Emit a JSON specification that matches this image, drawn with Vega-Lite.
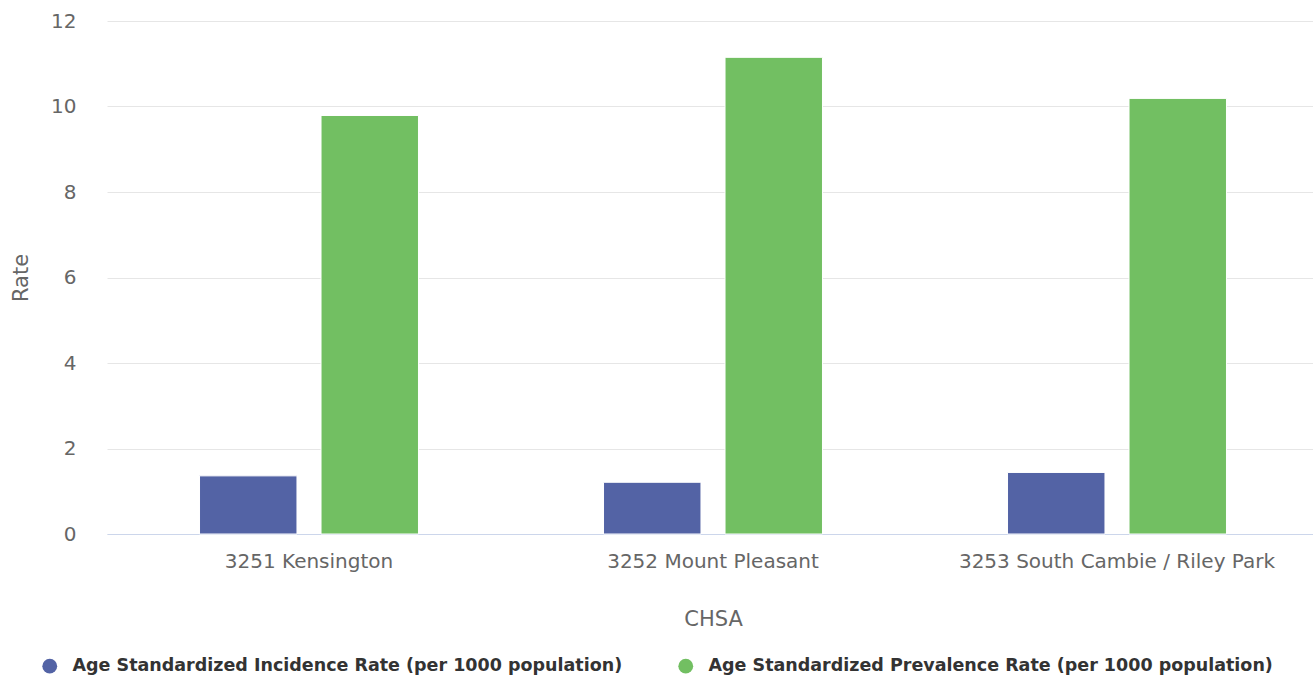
{
  "$schema": "https://vega.github.io/schema/vega-lite/v6.json",
  "width": 1207,
  "height": 513,
  "autosize": {"type": "none"},
  "padding": {"left": 106, "top": 21, "right": 0, "bottom": 143},
  "background": "white",
  "config": {
    "font": "DejaVu Sans",
    "view": {"stroke": null}
  },
  "data": {
    "values": [
      {"chsa": "3251 Kensington", "measure": "Age Standardized Incidence Rate (per 1000 population)", "rate": 1.36},
      {"chsa": "3251 Kensington", "measure": "Age Standardized Prevalence Rate (per 1000 population)", "rate": 9.79},
      {"chsa": "3252 Mount Pleasant", "measure": "Age Standardized Incidence Rate (per 1000 population)", "rate": 1.21},
      {"chsa": "3252 Mount Pleasant", "measure": "Age Standardized Prevalence Rate (per 1000 population)", "rate": 11.15},
      {"chsa": "3253 South Cambie / Riley Park", "measure": "Age Standardized Incidence Rate (per 1000 population)", "rate": 1.44},
      {"chsa": "3253 South Cambie / Riley Park", "measure": "Age Standardized Prevalence Rate (per 1000 population)", "rate": 10.19}
    ]
  },
  "mark": {"type": "bar", "stroke": "white", "strokeWidth": 1},
  "encoding": {
    "x": {
      "field": "chsa",
      "type": "nominal",
      "sort": null,
      "scale": {"paddingInner": 0.458, "paddingOuter": 0.229, "range": [1, 1213]},
      "axis": {
        "title": "CHSA",
        "labelAngle": 0,
        "labelFontSize": 20,
        "labelColor": "#666666",
        "labelPadding": 17,
        "labelLimit": 600,
        "ticks": false,
        "tickSize": 0,
        "domainColor": "#ccd6eb",
        "domainWidth": 1,
        "titleFontSize": 21,
        "titleFontWeight": "normal",
        "titleColor": "#666666",
        "titlePadding": 37,
        "titleX": 607
      }
    },
    "xOffset": {
      "field": "measure",
      "type": "nominal",
      "scale": {"paddingInner": 0.198, "paddingOuter": 0}
    },
    "y": {
      "field": "rate",
      "type": "quantitative",
      "scale": {"domain": [0, 12]},
      "axis": {
        "title": "Rate",
        "values": [0, 2, 4, 6, 8, 10, 12],
        "labelFontSize": 20,
        "labelColor": "#666666",
        "labelPadding": 30,
        "ticks": false,
        "tickSize": 0,
        "domain": false,
        "gridColor": "#e6e6e6",
        "gridWidth": 1,
        "titleFontSize": 21,
        "titleFontWeight": "normal",
        "titleColor": "#666666",
        "titlePadding": 19
      }
    },
    "color": {
      "field": "measure",
      "type": "nominal",
      "scale": {"range": ["#5363a5", "#72bf62"]},
      "legend": {
        "title": null,
        "orient": "none",
        "direction": "horizontal",
        "legendX": -65,
        "legendY": 636,
        "symbolType": "circle",
        "symbolSize": 220,
        "symbolStrokeWidth": 0,
        "symbolOpacity": 1,
        "labelFontSize": 17.5,
        "labelColor": "#333333",
        "labelFontWeight": "bold",
        "labelOffset": 14,
        "labelLimit": 800,
        "columnPadding": 54
      }
    }
  }
}
